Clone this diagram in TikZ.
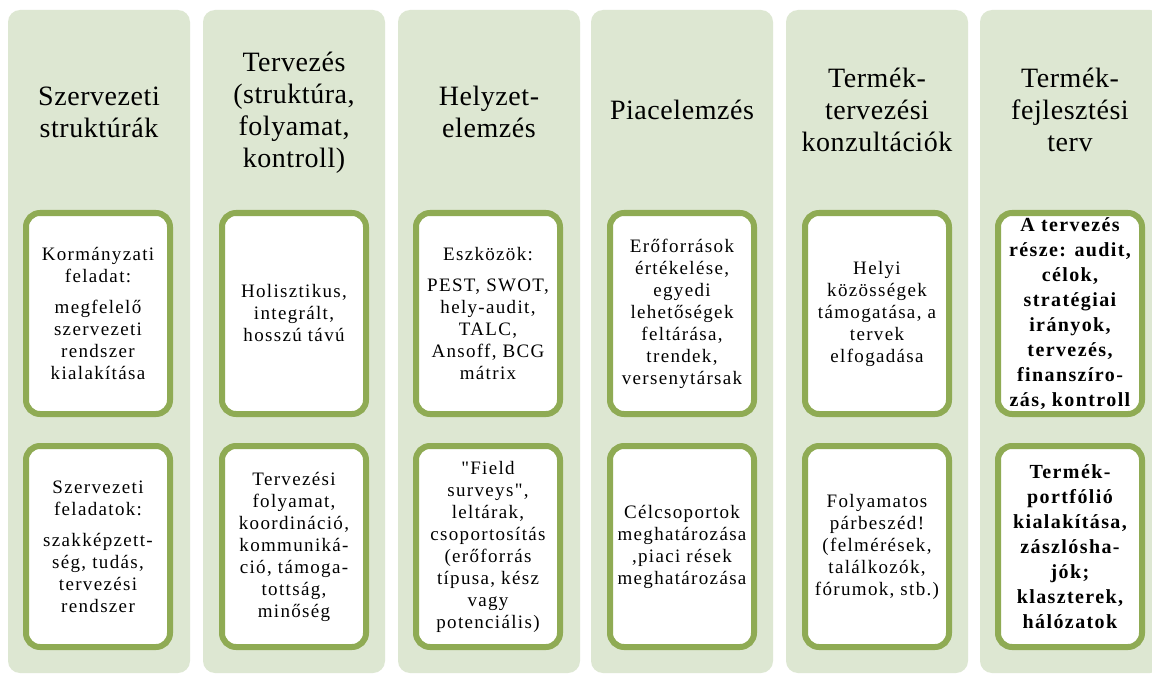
\documentclass[tikz,border=0pt]{standalone}
\usepackage{fontspec}
\setmainfont{Liberation Serif}
\newfontfamily\titlefont[LetterSpace=2]{Liberation Serif}
\newfontfamily\bodyfont[LetterSpace=7]{Liberation Serif}
\definecolor{colbg}{RGB}{221,231,210}
\definecolor{boxgreen}{RGB}{143,171,84}
\begin{document}
\begin{tikzpicture}[x=1pt,y=-1pt,
  column/.style={fill=colbg, draw=none, rounded corners=12pt, minimum width=182pt, minimum height=663pt, inner sep=0pt},
  card/.style={draw=boxgreen, line width=6pt, fill=white, rounded corners=14pt, minimum width=144pt, minimum height=201pt, inner sep=0pt, align=center, text=black, font=\bodyfont\fontsize{19}{22}\selectfont},
  cardbold/.style={card, font=\bodyfont\bfseries\fontsize{20}{25}\selectfont},
  title/.style={align=center, text=black, font=\titlefont\fontsize{28}{32}\selectfont}]
\useasboundingbox (0,0) rectangle (1152,674);
\clip (0,0) rectangle (1152,674);
\fill[white] (0,0) rectangle (1152,674);
% columns
\node[column] (c1) at (99,341.5) {};
\node[column] (c2) at (294,341.5) {};
\node[column] (c3) at (489,341.5) {};
\node[column] (c4) at (682,341.5) {};
\node[column] (c5) at (877,341.5) {};
\node[column] (c6) at (1071,341.5) {};
% titles
\node[title] (t1) at (99,112) {Szervezeti\\strukt\'ur\'ak};
\node[title] (t2) at (294,113) {Tervez\'es\\(strukt\'ura,\\folyamat,\\kontroll)};
\node[title] (t3) at (489,112) {Helyzet-\\elemz\'es};
\node[title] (t4) at (682,110) {Piacelemz\'es};
\node[title] (t5) at (877,110) {Term\'ek-\\tervez\'esi\\konzult\'aci\'ok};
\node[title] (t6) at (1070,110) {Term\'ek-\\fejleszt\'esi\\terv};
% upper cards
\node[card] (u1) at (98,313.5) {Korm\'anyzati\\feladat:\\[9pt]megfelel\H{o}\\szervezeti\\rendszer\\kialak\'it\'asa};
\node[card] (u2) at (294,313.5) {Holisztikus,\\integr\'alt,\\hossz\'u t\'av\'u};
\node[card] (u3) at (488,313.5) {Eszk\"oz\"ok:\\[9pt]PEST, SWOT,\\hely-audit,\\TALC,\\Ansoff, BCG\\m\'atrix};
\node[card] (u4) at (682,313.5) {Er\H{o}forr\'asok\\\'ert\'ekel\'ese,\\egyedi\\lehet\H{o}s\'egek\\felt\'ar\'asa,\\trendek,\\versenyt\'arsak};
\node[card] (u5) at (877,313.5) {Helyi\\k\"oz\"oss\'egek\\t\'amogat\'asa, a\\tervek\\elfogad\'asa};
\node[cardbold] (u6) at (1070,313.5) {A tervez\'es\\r\'esze: audit,\\c\'elok,\\strat\'egiai\\ir\'anyok,\\tervez\'es,\\finansz\'iro-\\z\'as, kontroll};
% lower cards
\node[card] (l1) at (98,546.5) {Szervezeti\\feladatok:\\[9pt]szakk\'epzett-\\s\'eg, tud\'as,\\tervez\'esi\\rendszer};
\node[card] (l2) at (294,546.5) {Tervez\'esi\\folyamat,\\koordin\'aci\'o,\\kommunik\'a-\\ci\'o, t\'amoga-\\totts\'ag,\\min\H{o}s\'eg};
\node[card] (l3) at (488,546.5) {"Field\\surveys",\\lelt\'arak,\\csoportos\'it\'as\\(er\H{o}forr\'as\\t\'ipusa, k\'esz\\vagy\\potenci\'alis)};
\node[card] (l4) at (682,546.5) {C\'elcsoportok\\meghat\'aroz\'asa\\,piaci r\'esek\\meghat\'aroz\'asa};
\node[card] (l5) at (877,546.5) {Folyamatos\\p\'arbesz\'ed!\\(felm\'er\'esek,\\tal\'alkoz\'ok,\\f\'orumok, stb.)};
\node[cardbold] (l6) at (1070,546.5) {Term\'ek-\\portf\'oli\'o\\kialak\'it\'asa,\\z\'aszl\'osha-\\j\'ok;\\klaszterek,\\h\'al\'ozatok};
\end{tikzpicture}
\end{document}
